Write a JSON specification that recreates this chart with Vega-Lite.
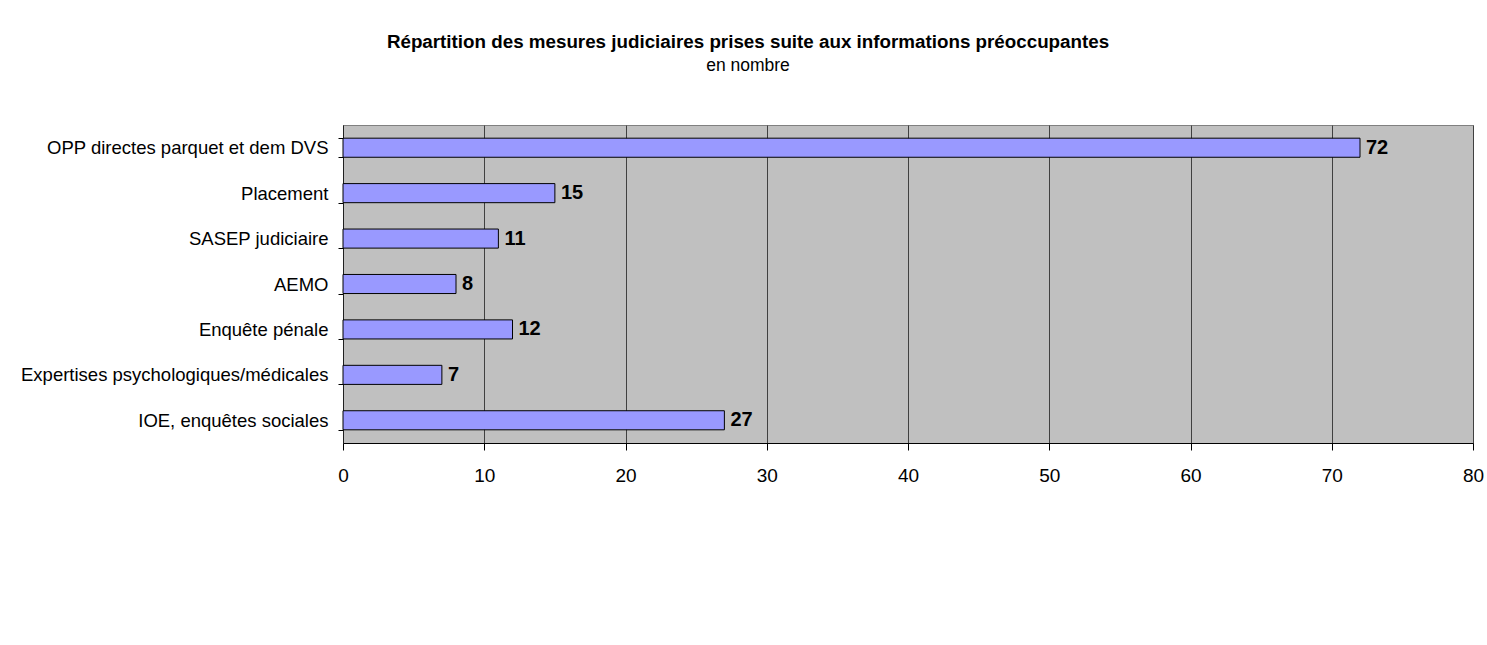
{
  "$schema": "https://vega.github.io/schema/vega-lite/v6.json",
  "autosize": "none",
  "width": 1130,
  "height": 318,
  "padding": {"left": 343, "top": 125, "right": 14, "bottom": 202},
  "background": "white",
  "title": {
    "text": "Répartition des mesures judiciaires prises suite aux informations préoccupantes",
    "subtitle": "en nombre",
    "anchor": "middle",
    "dx": -160,
    "offset": 42,
    "font": "Liberation Sans",
    "fontSize": 18.8,
    "fontWeight": "bold",
    "color": "black",
    "subtitleFont": "Liberation Sans",
    "subtitleFontSize": 17.5,
    "subtitleColor": "black",
    "subtitlePadding": 5
  },
  "config": {
    "font": "Liberation Sans",
    "view": {"fill": "#C0C0C0", "stroke": "#808080", "strokeWidth": 1}
  },
  "data": {
    "values": [
      {"mesure": "OPP directes parquet et dem DVS", "nombre": 72},
      {"mesure": "Placement", "nombre": 15},
      {"mesure": "SASEP judiciaire", "nombre": 11},
      {"mesure": "AEMO", "nombre": 8},
      {"mesure": "Enquête pénale", "nombre": 12},
      {"mesure": "Expertises psychologiques/médicales", "nombre": 7},
      {"mesure": "IOE, enquêtes sociales", "nombre": 27}
    ]
  },
  "encoding": {
    "y": {
      "field": "mesure",
      "type": "nominal",
      "sort": null,
      "title": null,
      "scale": {"paddingInner": 0.58, "paddingOuter": 0.29},
      "axis": {
        "tickBand": "extent",
        "tickSize": 5,
        "tickColor": "black",
        "domainColor": "#202020",
        "labelPadding": 10,
        "labelFontSize": 18.5,
        "labelColor": "black",
        "labelFont": "Liberation Sans",
        "labelLimit": 400,
        "grid": false
      }
    },
    "x": {
      "field": "nombre",
      "type": "quantitative",
      "title": null,
      "scale": {"domain": [0, 80], "nice": false},
      "axis": {
        "values": [0, 10, 20, 30, 40, 50, 60, 70, 80],
        "tickSize": 7,
        "tickColor": "black",
        "domainColor": "black",
        "labelPadding": 16,
        "labelFontSize": 19,
        "labelColor": "black",
        "labelFont": "Liberation Sans",
        "labelFlush": false,
        "grid": true,
        "gridColor": "#404040",
        "gridOpacity": 1,
        "gridWidth": 1
      }
    }
  },
  "layer": [
    {
      "mark": {"type": "bar", "fill": "#9999FF", "stroke": "black", "strokeWidth": 1}
    },
    {
      "mark": {"type": "text", "align": "left", "baseline": "middle", "dx": 6, "fontSize": 20, "fontWeight": "bold", "color": "black", "font": "Liberation Sans"},
      "encoding": {"text": {"field": "nombre", "type": "quantitative"}}
    }
  ]
}
